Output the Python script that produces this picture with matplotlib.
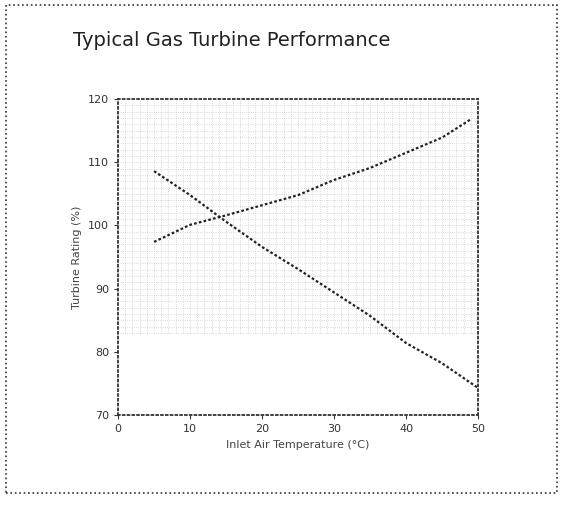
import matplotlib.pyplot as plt
import numpy as np

# data
temp = [5, 10, 15, 20, 25, 30, 35, 40, 45, 50]
rating_down = [108.6, 104.8, 100.6, 96.6, 93.1, 89.4, 85.7, 81.4, 78.2, 74.3]
temp_up = [5, 10, 15, 20, 25, 30, 35, 40, 45, 49]
rating_up = [97.4, 100.1, 101.6, 103.2, 104.8, 107.2, 109.1, 111.5, 113.9, 116.8]

fig = plt.figure(figsize=(5.65, 5.08), dpi=100)
ax = fig.add_axes([0.209, 0.183, 0.637, 0.622])

# faint dotted background grid in the upper part
for gx in np.arange(1, 50, 1.0):
    ax.plot([gx, gx], [83, 120], color='#cccccc', lw=0.6, ls=':', zorder=0)
for gy in np.arange(83, 120, 1.0):
    ax.plot([0, 50], [gy, gy], color='#cccccc', lw=0.6, ls=':', zorder=0)

ax.plot(temp, rating_down, color='#222222', lw=1.6, ls=(0, (1.2, 1.0)))
ax.plot(temp_up, rating_up, color='#222222', lw=1.6, ls=(0, (1.2, 1.0)))

ax.set_xlim(0, 50)
ax.set_ylim(70, 120)
ax.set_xticks([0, 10, 20, 30, 40, 50])
ax.set_yticks([70, 80, 90, 100, 110, 120])
ax.tick_params(labelsize=8, colors='#333333', direction='out', length=3)
for s in ax.spines.values():
    s.set_linestyle(':')
    s.set_linewidth(1.3)
    s.set_color('#333333')
ax.set_xlabel('Inlet Air Temperature (°C)', fontsize=8, color='#444444')
ax.set_ylabel('Turbine Rating (%)', fontsize=8, color='#444444')

fig.text(0.41, 0.91, 'Typical Gas Turbine Performance', ha='center',
         fontsize=14, color='#222222')

# dotted frame around the figure
fig.patches.append(plt.Rectangle((0.01, 0.03), 0.975, 0.96, transform=fig.transFigure,
                                 fill=False, ls=':', lw=1.2, ec='#333333'))

fig.savefig('out.png', dpi=100)
